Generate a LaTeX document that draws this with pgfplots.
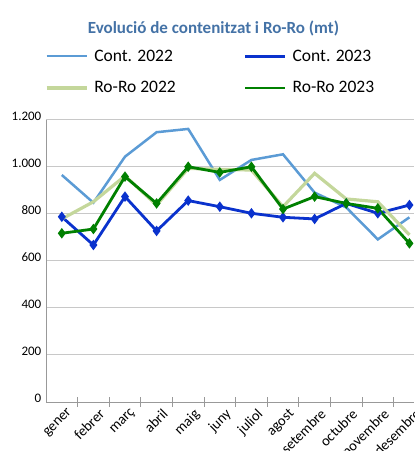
\documentclass[border=0pt]{standalone}
\usepackage{pgfplots}
\pgfplotsset{compat=1.18}
\usepackage{fontspec}
\setmainfont{Carlito}
\definecolor{c22}{RGB}{91,155,213}
\definecolor{c23}{RGB}{10,50,205}
\definecolor{r22}{RGB}{196,215,155}
\definecolor{r23}{RGB}{0,128,0}
\definecolor{ttl}{RGB}{68,114,166}
\definecolor{gridc}{RGB}{200,200,200}
\begin{document}
\begin{tikzpicture}
\begin{axis}[
  name=ax,
  scale only axis,
  width=368pt, height=282pt,
  xmin=0.5, xmax=12.145,
  ymin=0, ymax=1200,
  axis x line=bottom, axis y line=left,
  axis line style={-, draw=gray!80, line width=0.8pt},
  xtick={1,...,12},
  xticklabels={gener,febrer,març,abril,maig,juny,juliol,agost,setembre,octubre,novembre,desembre},
  minor xtick={1.5,2.5,...,11.5},
  major x tick style={draw=none},
  minor x tick style={draw=gray!80, line width=0.8pt},
  minor tick length=9pt,
  tick align=center,
  xticklabel style={rotate=45, anchor=north east, inner sep=1pt, font=\fontsize{14.5}{16}\selectfont, xshift=2pt, yshift=-5pt},
  ytick={0,200,...,1200},
  ytick style={draw=none},
  yticklabel style={font=\fontsize{13}{15}\selectfont, yshift=4pt, xshift=1pt},
  /pgf/number format/.cd, 1000 sep={.}, assume math mode=true,
  /pgfplots/.cd,
  ymajorgrids,
  major grid style={draw=gridc, line width=1pt},
  clip=false,
  title={Evolució de contenitzat i Ro-Ro (mt)},
  title style={at={(0.455,1.305)}, anchor=center, font=\bfseries\fontsize{17}{20}\selectfont, text=ttl},
  legend columns=2,
  legend cell align=left,
  legend image code/.code={\draw[#1, mark=none] (0pt,0pt) -- (40pt,0pt);},
  legend style={at={(-0.003,1.257)}, anchor=north west, draw=none, fill=none,
    inner sep=0pt, font=\fontsize{17.5}{20}\selectfont, row sep=15pt,
    /tikz/every odd column/.append style={column sep=4pt},
    /tikz/every even column/.append style={column sep=66pt}},
]
\addplot[c22, line width=2.5pt] coordinates {(1,966)(2,848)(3,1044)(4,1148)(5,1162)(6,945)(7,1030)(8,1054)(9,891)(10,828)(11,692)(12,786)};
\addlegendentry{Cont. 2022}
\addplot[c23, line width=2.8pt, mark=diamond*, mark size=3pt, mark options={solid}] coordinates {(1,788)(2,668)(3,874)(4,728)(5,857)(6,831)(7,803)(8,786)(9,779)(10,845)(11,803)(12,838)};
\addlegendentry{Cont. 2023}
\addplot[r22, line width=3.2pt] coordinates {(1,779)(2,852)(3,962)(4,838)(5,994)(6,990)(7,987)(8,831)(9,973)(10,864)(11,852)(12,711)};
\addlegendentry{Ro-Ro 2022}
\addplot[r23, line width=2.8pt, mark=diamond*, mark size=3pt, mark options={solid}] coordinates {(1,718)(2,736)(3,959)(4,845)(5,1001)(6,977)(7,1001)(8,821)(9,874)(10,845)(11,824)(12,675)};
\addlegendentry{Ro-Ro 2023}
\end{axis}
\pgfresetboundingbox
\path ([shift={(-46pt,-49pt)}]ax.south west) rectangle ([shift={(0pt,120pt)}]ax.north east);
\end{tikzpicture}
\end{document}
